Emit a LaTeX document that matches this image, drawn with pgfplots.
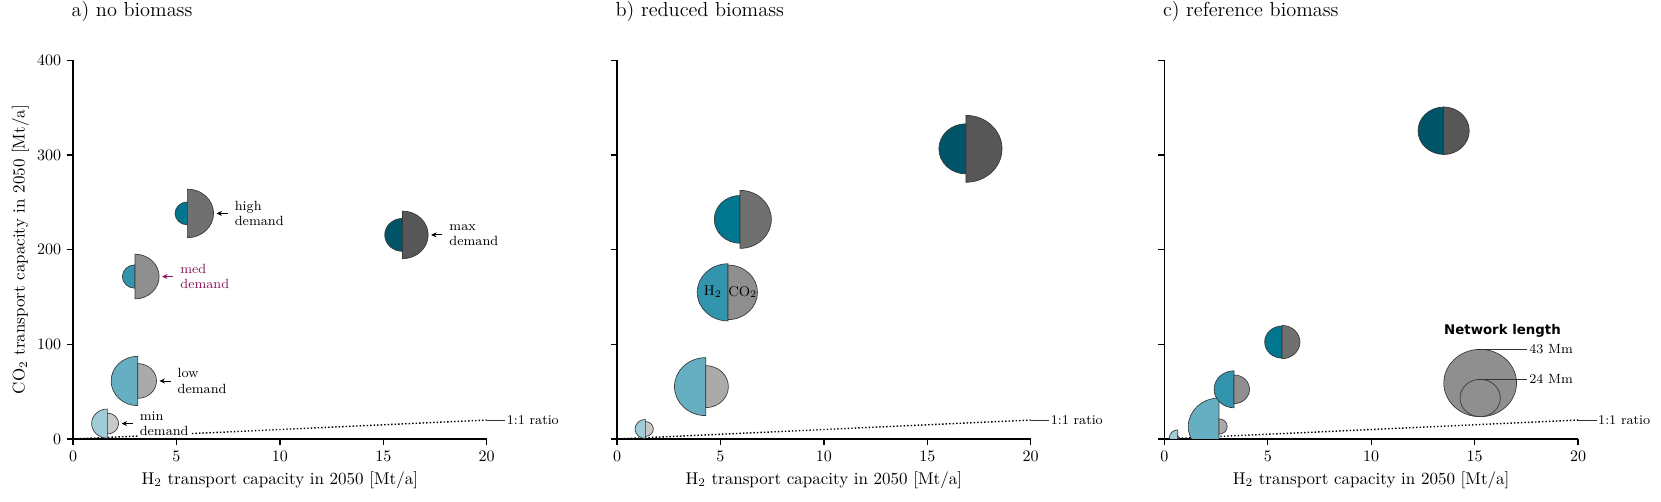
\documentclass[border=0pt]{standalone}
\usepackage{fontspec}
\usepackage{pgfplots}
\usepackage{pgfplotstable}
\pgfplotsset{compat=1.18}
\usetikzlibrary{arrows.meta}
\newfontfamily\dejavu{DejaVu Sans}

\definecolor{hA}{RGB}{160,204,215}
\definecolor{hB}{RGB}{102,175,194}
\definecolor{hC}{RGB}{50,148,173}
\definecolor{hD}{RGB}{0,118,143}
\definecolor{hE}{RGB}{0,84,104}
\definecolor{cA}{RGB}{200,200,200}
\definecolor{cB}{RGB}{170,170,170}
\definecolor{cC}{RGB}{143,143,143}
\definecolor{cD}{RGB}{112,112,112}
\definecolor{cE}{RGB}{87,87,87}
\definecolor{edge}{RGB}{55,55,55}
\definecolor{berry}{RGB}{140,22,94}

\pgfdeclareplotmark{halfL}{%
  \pgfpathmoveto{\pgfpoint{0pt}{\myry pt}}%
  \pgfpatharc{90}{270}{\myrx pt and \myry pt}%
  \pgfpathclose
  \pgfusepathqfillstroke}
\pgfdeclareplotmark{halfR}{%
  \pgfpathmoveto{\pgfpoint{0pt}{\myry pt}}%
  \pgfpatharc{90}{-90}{\myrx pt and \myry pt}%
  \pgfpathclose
  \pgfusepathqfillstroke}
\pgfdeclareplotmark{ell}{%
  \pgfpathellipse{\pgfpointorigin}{\pgfpoint{1.08\pgfplotmarksize}{0pt}}{\pgfpoint{0pt}{\pgfplotmarksize}}%
  \pgfusepathqfillstroke}

\tikzset{
  ratio/.style={line width=0.85pt, dash pattern=on 0.85pt off 1.25pt, black},
  ann/.style={anchor=west, align=left, fill=white, inner sep=1pt, font=\fontsize{8}{9.2}\selectfont},
  arr/.style={-{Stealth[length=3.2pt,width=3pt]}, line width=0.5pt},
}
\pgfplotsset{
  panel/.style={
    scale only axis, width=248.2pt, height=227.2pt,
    anchor=south west,
    xmin=0, xmax=20, ymin=0, ymax=400,
    axis lines=left, axis line style={-, line width=0.8pt},
    xtick={0,5,...,20}, ytick={0,100,...,400},
    tick align=outside, major tick length=3.6pt,
    every tick/.style={line width=0.8pt, black},
    tick label style={font=\fontsize{9.6}{11}\selectfont},
    /pgf/number format/assume math mode=true,
    xlabel={H$_2$ transport capacity in 2050 [Mt/a]},
    label style={font=\fontsize{10.2}{12}\selectfont},
    xlabel style={at={(axis description cs:0.5,-0.108)}, anchor=center},
    title style={at={(axis description cs:0,1.104)}, anchor=west, inner sep=0pt, xshift=-1pt, font=\fontsize{12.2}{14}\selectfont},
    clip mode=individual,
  },
  bub/.style={only marks, scatter, scatter src=explicit symbolic, clip marker paths=true,
    mark options={line width=0.4pt, solid}},
  h2cls/.style={scatter/classes={
    min={fill=hA,draw=edge}, low={fill=hB,draw=edge}, med={fill=hC,draw=edge},
    high={fill=hD,draw=edge}, max={fill=hE,draw=edge}}},
  co2cls/.style={scatter/classes={
    min={fill=cA,draw=edge}, low={fill=cB,draw=edge}, med={fill=cC,draw=edge},
    high={fill=cD,draw=edge}, max={fill=cE,draw=edge}}},
}

\pgfplotstableread{
scen h2 co2 lh lc
min 1.66 16.3 18.6 13.4
low 3.13 61.3 31.5 22.2
med 3.00 171.6 15.0 28.5
high 5.53 238.3 14.6 31.0
max 15.93 215.6 21.0 30.4
}\tabA
\pgfplotstableread{
scen h2 co2 lh lc
min 1.37 10.6 12.2 9.5
low 4.29 55.3 37.0 26.8
med 5.37 154.9 36.5 34.8
high 5.95 232.0 30.5 37.0
max 16.87 306.5 32.0 42.7
}\tabB
\pgfplotstableread{
scen h2 co2 lh lc
min 0.65 1.4 9.9 2.0
low 2.64 13.2 36.3 9.8
med 3.37 52.5 23.6 18.3
high 5.69 102.4 20.5 21.2
max 13.50 325.6 30.2 30.4
}\tabC

\begin{document}
\begin{tikzpicture}
\path[use as bounding box] (0,0) rectangle (996.6pt,301.2pt);

% ---------------- panel a
\begin{axis}[panel, at={(43.8pt,37.8pt)},
  title={a) no biomass},
  ylabel={CO$_2$ transport capacity in 2050 [Mt/a]},
  ylabel style={at={(axis description cs:-0.127,0.5)}, anchor=center}]
\addplot[ratio] coordinates {(0,0) (20,20)};
\addplot[bub, h2cls, mark=halfL,
  visualization depends on={0.507*\thisrow{lh}\as\myrx},
  visualization depends on={0.47*\thisrow{lh}\as\myry}]
  table[x=h2,y=co2,meta=scen]{\tabA};
\addplot[bub, co2cls, mark=halfR,
  visualization depends on={0.507*\thisrow{lc}\as\myrx},
  visualization depends on={0.47*\thisrow{lc}\as\myry}]
  table[x=h2,y=co2,meta=scen]{\tabA};
\draw[line width=0.4pt, black!80] (axis cs:20,20) -- (axis cs:20.9,20);
\node[anchor=west, inner sep=0.5pt, font=\fontsize{8}{9}\selectfont] at (axis cs:20.92,20) {1:1 ratio};
% annotations
\draw[arr] ([xshift=15.19pt]axis cs:1.66,16.3) -- ([xshift=8.59pt]axis cs:1.66,16.3);
\node[ann] at ([xshift=18.3pt]axis cs:1.66,16.3) {min\\demand};
\draw[arr] ([xshift=19.66pt]axis cs:3.13,61.3) -- ([xshift=13.06pt]axis cs:3.13,61.3);
\node[ann] at ([xshift=22.8pt]axis cs:3.13,61.3) {low\\demand};
\draw[arr, berry] ([xshift=22.85pt]axis cs:3.0,171.6) -- ([xshift=16.25pt]axis cs:3.0,171.6);
\node[ann, text=berry] at ([xshift=26.0pt]axis cs:3.0,171.6) {med\\demand};
\draw[arr] ([xshift=24.12pt]axis cs:5.53,238.3) -- ([xshift=17.52pt]axis cs:5.53,238.3);
\node[ann] at ([xshift=27.3pt]axis cs:5.53,238.3) {high\\demand};
\draw[arr] ([xshift=23.81pt]axis cs:15.93,215.6) -- ([xshift=17.21pt]axis cs:15.93,215.6);
\node[ann] at ([xshift=27.0pt]axis cs:15.93,215.6) {max\\demand};
\end{axis}

% ---------------- panel b
\begin{axis}[panel, at={(370.2pt,37.8pt)},
  title={b) reduced biomass},
  yticklabel=\empty]
\addplot[ratio] coordinates {(0,0) (20,20)};
\addplot[bub, h2cls, mark=halfL,
  visualization depends on={0.507*\thisrow{lh}\as\myrx},
  visualization depends on={0.47*\thisrow{lh}\as\myry}]
  table[x=h2,y=co2,meta=scen]{\tabB};
\addplot[bub, co2cls, mark=halfR,
  visualization depends on={0.507*\thisrow{lc}\as\myrx},
  visualization depends on={0.47*\thisrow{lc}\as\myry}]
  table[x=h2,y=co2,meta=scen]{\tabB};
\draw[line width=0.4pt, black!80] (axis cs:20,20) -- (axis cs:20.9,20);
\node[anchor=west, inner sep=0.5pt, font=\fontsize{8}{9}\selectfont] at (axis cs:20.92,20) {1:1 ratio};
\node[font=\fontsize{8.5}{10}\selectfont, inner sep=0pt] at (axis cs:4.63,155.3) {H$_2$};
\node[font=\fontsize{8.5}{10}\selectfont, inner sep=0pt] at (axis cs:6.08,155.3) {CO$_2$};
\end{axis}

% ---------------- panel c
\begin{axis}[panel, at={(698.6pt,37.8pt)},
  title={c) reference biomass},
  yticklabel=\empty]
\addplot[ratio] coordinates {(0,0) (20,20)};
\addplot[bub, h2cls, mark=halfL,
  visualization depends on={0.507*\thisrow{lh}\as\myrx},
  visualization depends on={0.47*\thisrow{lh}\as\myry}]
  table[x=h2,y=co2,meta=scen]{\tabC};
\addplot[bub, co2cls, mark=halfR,
  visualization depends on={0.507*\thisrow{lc}\as\myrx},
  visualization depends on={0.47*\thisrow{lc}\as\myry}]
  table[x=h2,y=co2,meta=scen]{\tabC};
\addplot[only marks, mark=ell, mark size=20.2pt, mark options={fill=cC, draw=edge, line width=0.4pt}] coordinates {(15.27,59.1)};
\addplot[only marks, mark=ell, mark size=11.2pt, mark options={fill=cC, draw=edge, line width=0.4pt}] coordinates {(15.27,43.3)};
\draw[line width=0.4pt, black!80] (axis cs:20,20) -- (axis cs:20.9,20);
\node[anchor=west, inner sep=0.5pt, font=\fontsize{8}{9}\selectfont] at (axis cs:20.92,20) {1:1 ratio};
\draw[line width=0.4pt, black!80] (axis cs:15.1,94.7) -- (axis cs:17.55,94.7);
\draw[line width=0.4pt, black!80] (axis cs:15.1,63.0) -- (axis cs:17.55,63.0);
\node[anchor=west, inner sep=1pt, font=\fontsize{8}{9}\selectfont] at (axis cs:17.55,94.7) {43 Mm};
\node[anchor=west, inner sep=1pt, font=\fontsize{8}{9}\selectfont] at (axis cs:17.55,63.0) {24 Mm};
\node[font=\dejavu\bfseries\fontsize{8}{9}\selectfont, inner sep=0pt] at (axis cs:16.35,113.7) {Network length};
\end{axis}
\end{tikzpicture}
\end{document}
